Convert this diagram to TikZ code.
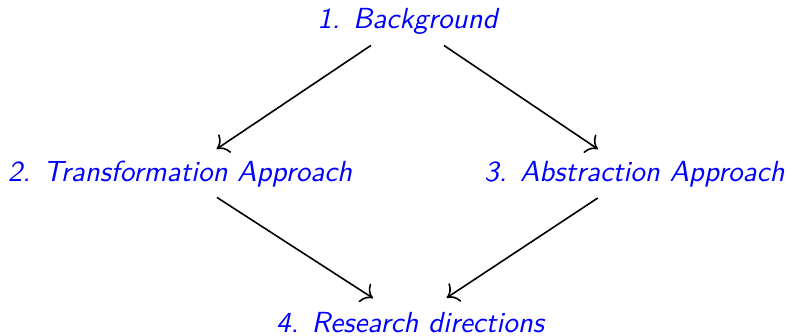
\documentclass[tikz,border=0pt]{standalone}
\usetikzlibrary{arrows.meta}
\begin{document}
\begin{tikzpicture}[x=0.375pt,y=-0.375pt,
  topic/.style={inner sep=0pt,anchor=base,text=blue,
    font=\fontsize{10.9pt}{13pt}\selectfont\sffamily\itshape},
  link/.style={-{To[scale=1.35]},line width=0.6pt,shorten <=16.5pt,shorten >=16.5pt}]
  \useasboundingbox (0,0) rectangle (788,336);
  \newcommand\itemgap{\hspace{0.45em}}
  \node[topic] (bg)  at (407.5,28)  {1.\itemgap Background};
  \node[topic] (tr)  at (180,181)   {2.\itemgap Transformation Approach};
  \node[topic] (ab)  at (634.5,181) {3.\itemgap Abstraction Approach};
  \node[topic] (rd)  at (410,332)   {4.\itemgap Research directions};
  \draw[link] (bg.center) -- (tr.center);
  \draw[link] (bg.center) -- (ab.center);
  \draw[link] (tr.center) -- (rd.center);
  \draw[link] (ab.center) -- (rd.center);
\end{tikzpicture}
\end{document}
